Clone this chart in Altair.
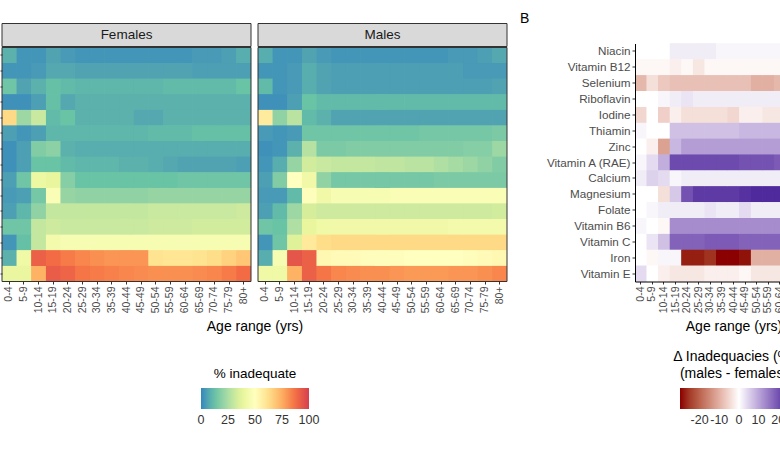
import altair as alt
import pandas as pd

nutrients = ["Niacin", "Vitamin B12", "Selenium", "Riboflavin", "Iodine", "Thiamin", "Zinc",
             "Vitamin A (RAE)", "Calcium", "Magnesium", "Folate", "Vitamin B6", "Vitamin C",
             "Iron", "Vitamin E"]
ages = ["0-4", "5-9", "10-14", "15-19", "20-24", "25-29", "30-34", "35-39", "40-44", "45-49",
        "50-54", "55-59", "60-64", "65-69", "70-74", "75-79", "80+"]

# % inadequate, females (rows = nutrients, columns = age groups)
females = [
    [9, 3, 3, 6, 4, 3, 3, 3, 3, 3, 3, 3, 3, 4, 4, 5, 8],
    [3, 3, 4, 7, 7, 6, 6, 6, 6, 6, 6, 6, 6, 5, 5, 5, 5],
    [14, 6, 9, 12, 11, 10, 10, 10, 10, 10, 10, 11, 11, 11, 11, 11, 13],
    [2, 2, 5, 12, 7, 9, 9, 9, 9, 9, 9, 9, 9, 9, 9, 9, 9],
    [64, 22, 31, 11, 13, 9, 9, 9, 9, 7, 7, 9, 9, 9, 9, 9, 9],
    [5, 3, 5, 10, 10, 10, 10, 10, 10, 10, 11, 11, 11, 12, 12, 12, 12],
    [2, 5, 17, 19, 9, 8, 8, 8, 8, 8, 8, 8, 8, 8, 8, 8, 8],
    [2, 5, 13, 13, 11, 10, 10, 10, 9, 9, 8, 7, 6, 6, 6, 6, 5],
    [5, 14, 41, 39, 18, 13, 13, 13, 13, 13, 13, 13, 14, 14, 14, 14, 14],
    [4, 5, 15, 47, 21, 20, 20, 20, 20, 20, 21, 21, 21, 21, 21, 21, 21],
    [5, 10, 20, 30, 30, 30, 30, 30, 30, 30, 31, 31, 31, 31, 31, 31, 32],
    [14, 14, 30, 32, 31, 31, 31, 31, 31, 31, 32, 32, 32, 33, 33, 33, 33],
    [3, 12, 30, 44, 46, 46, 46, 46, 46, 46, 46, 46, 46, 46, 46, 46, 46],
    [9, 42, 91, 88, 85, 83, 81, 80, 80, 80, 61, 60, 60, 61, 63, 66, 69],
    [40, 40, 74, 92, 90, 86, 85, 84, 83, 82, 81, 81, 81, 82, 83, 85, 88],
]

# % inadequate, males
males = [
    [8, 3, 3, 6, 4, 3, 3, 3, 3, 3, 3, 3, 3, 4, 4, 5, 7],
    [3, 3, 4, 8, 6, 5, 5, 5, 5, 5, 5, 5, 5, 5, 4, 4, 4],
    [11, 3, 4, 8, 6, 5, 5, 5, 5, 5, 5, 5, 5, 5, 5, 5, 6],
    [2, 2, 5, 13, 11, 11, 11, 11, 11, 11, 11, 11, 11, 11, 11, 11, 11],
    [58, 20, 28, 11, 9, 6, 6, 6, 6, 6, 6, 6, 6, 6, 6, 6, 6],
    [4, 3, 4, 14, 14, 14, 14, 14, 14, 14, 14, 15, 15, 15, 15, 15, 16],
    [2, 3, 9, 27, 16, 16, 17, 17, 17, 17, 17, 17, 17, 17, 18, 18, 22],
    [3, 8, 21, 33, 31, 30, 30, 30, 29, 29, 28, 28, 26, 24, 22, 20, 17],
    [5, 17, 50, 43, 20, 15, 15, 15, 15, 15, 15, 15, 16, 16, 16, 16, 16],
    [4, 4, 11, 49, 43, 46, 46, 46, 46, 47, 47, 47, 47, 47, 47, 47, 47],
    [5, 11, 22, 34, 32, 32, 32, 32, 32, 32, 32, 32, 32, 32, 32, 32, 33],
    [14, 13, 26, 39, 42, 43, 43, 43, 43, 43, 43, 43, 43, 44, 44, 44, 44],
    [3, 14, 36, 59, 63, 64, 64, 64, 64, 64, 64, 64, 64, 64, 64, 64, 64],
    [8, 46, 94, 91, 53, 52, 52, 51, 51, 51, 50, 50, 50, 50, 51, 52, 53],
    [42, 42, 74, 91, 86, 83, 82, 81, 81, 80, 79, 79, 79, 80, 80, 81, 83],
]

# difference in % inadequate (males - females)
delta = [
    [0, 0, 0, 2, 2, 2, 2, 1, 1, 1, 1, 1, 1, 1, 1, 1, 1],
    [-1, -1, -1, -2, -1, -3, -1, -1, -1, -1, -1, -1, -1, -1, -1, -1, -1],
    [-9, -4, -7, -8, -8, -8, -8, -8, -8, -8, -10, -10, -9, -8, -8, -8, -8],
    [0, 0, 1, 2, 3, 2, 2, 2, 2, 2, 2, 2, 2, 2, 2, 2, 2],
    [-5, 0, -6, -2, -4, -4, -4, -4, -5, -2, -2, -3, -3, -3, -3, -3, -3],
    [1, 0, 0, 7, 7, 7, 7, 7, 7, 8, 8, 8, 8, 8, 8, 8, 8],
    [0, -2, -12, 8, 11, 11, 11, 11, 11, 11, 11, 11, 11, 10, 10, 10, 12],
    [1, 4, 9, 21, 21, 21, 21, 21, 21, 20, 20, 20, 19, 18, 16, 14, 11],
    [2, 5, 4, 1, 2, 2, 2, 2, 2, 2, 2, 2, 2, 2, 2, 2, 2],
    [0, 0, -4, 6, 20, 23, 23, 23, 23, 24, 25, 25, 25, 25, 25, 25, 24],
    [0, 1, 2, 2, 2, 2, 3, 2, 2, 4, 2, 2, 2, 2, 2, 2, 2],
    [1, 0, -1, 13, 13, 13, 13, 13, 13, 13, 13, 13, 13, 13, 13, 13, 13],
    [0, 3, 7, 18, 18, 18, 19, 19, 19, 18, 18, 18, 18, 18, 18, 18, 18],
    [0, -1, 1, 1, -28, -28, -26, -30, -30, -29, -10, -10, -10, -9, -10, -12, -15],
    [4, 0, -2, -3, -3, -3, -2, -2, -2, -1, -3, -3, -3, -3, -3, -3, -3],
]

FONT = "Liberation Sans"
spectral = ["#3288bd", "#66c2a5", "#abdda4", "#e6f598", "#ffffbf",
            "#fee08b", "#fdae61", "#f46d43", "#d53e4f"]
# ends nudged by a hair so the end labels of the colour bar are centred like the others
spectral_domain = [-0.01, 12.5, 25, 37.5, 50, 62.5, 75, 87.5, 100.01]
div_domain = [-30, 0, 25]
div_range = ["#8b0000", "#ffffff", "#4e2a9d"]

W_A = 249
W_B = 197
H = 238


def long(mat):
    return pd.DataFrame([
        {"nutrient": n, "age": a, "value": mat[i][j]}
        for i, n in enumerate(nutrients) for j, a in enumerate(ages)
    ])


one = pd.DataFrame({"k": [0]})


def xaxis(title, domain, **extra):
    kw = dict(labelAngle=-90, labelFontSize=10.5, labelColor="#4d4d4d", labelPadding=2,
              tickSize=2.5, tickColor="#333333", domain=domain,
              titleFontSize=14, titleFontWeight="normal", titleColor="black",
              titleY=49, titleBaseline="alphabetic", title=title)
    if domain:
        kw.update(domainColor="black", domainWidth=1)
    kw.update(extra)
    return alt.Axis(**kw)


def legend_common(**kw):
    base = dict(type="gradient", orient="none", direction="horizontal",
                gradientLength=108, gradientThickness=21, gradientStrokeWidth=0,
                titleAnchor="middle", titleFontWeight="normal", titleColor="black",
                labelFontSize=12.5, labelColor="#333333", labelAlign="center",
                labelOffset=5, labelOverlap=False, labelExpr="'' + datum.value")
    base.update(kw)
    return alt.Legend(**base)


def panel(mat, label, first):
    df = long(mat)
    spec_scale = alt.Scale(domain=spectral_domain, range=spectral, interpolate="lab")
    if first:
        legend = legend_common(legendX=199, legendY=323, title="% inadequate",
                               titleFontSize=13.5, titlePadding=8,
                               values=[0, 25, 50, 75, 100])
        yax = alt.Axis(labels=False, ticks=True, tickSize=2, tickColor="#333333",
                       domain=False, title=None)
        ax = xaxis("Age range (yrs)", False, titleX=252.5)
    else:
        legend = None
        yax = None
        ax = xaxis(None, False)
    heat = alt.Chart(df).mark_rect().encode(
        x=alt.X("age:N", sort=ages, scale=alt.Scale(paddingInner=0, paddingOuter=0), axis=ax),
        y=alt.Y("nutrient:N", sort=nutrients,
                scale=alt.Scale(range=[4, H], paddingInner=0, paddingOuter=0), axis=yax),
        color=alt.Color("value:Q", scale=spec_scale, legend=legend),
    )
    border = alt.Chart(one).mark_rect(fill="transparent", stroke="#333333", strokeWidth=1).encode(
        x=alt.value(0), x2=alt.value(W_A), y=alt.value(4), y2=alt.value(H))
    strip = alt.Chart(one).mark_rect(fill="#d9d9d9", stroke="#333333", strokeWidth=1).encode(
        x=alt.value(0), x2=alt.value(W_A), y=alt.value(-20), y2=alt.value(3))
    txt = alt.Chart(one).mark_text(text=label, fontSize=13.5, color="#1a1a1a", font=FONT,
                                   baseline="middle", align="center").encode(
        x=alt.value(W_A / 2), y=alt.value(-8.5))
    # the heat layer is drawn more than once to hide anti-aliasing seams between cells
    return alt.layer(heat, heat, heat, border, strip, txt).properties(width=W_A, height=H)


fem = panel(females, "Females", True)
mal = panel(males, "Males", False)

spacer = alt.Chart(one).mark_point(opacity=0).encode(
    x=alt.value(0), y=alt.value(0)).properties(width=114, height=H)

div_scale = alt.Scale(domain=div_domain, range=div_range, interpolate="lab", clamp=True)
dfB = long(delta)
heatB = alt.Chart(dfB).mark_rect().encode(
    x=alt.X("age:N", sort=ages, scale=alt.Scale(paddingInner=0, paddingOuter=0),
            axis=xaxis("Age range (yrs)", True)),
    y=alt.Y("nutrient:N", sort=nutrients, scale=alt.Scale(paddingInner=0, paddingOuter=0),
            axis=alt.Axis(labelFontSize=11.7, labelColor="#4d4d4d", labelPadding=2, tickSize=3,
                          tickColor="#333333", domainColor="black", domainWidth=1, title=None)),
    color=alt.Color("value:Q", scale=div_scale,
                    legend=legend_common(legendX=38, legendY=306.5,
                                         title=["\u0394 Inadequacies (%)", "(males - females)"],
                                         titleFontSize=14, titleLineHeight=17, titlePadding=7,
                                         values=[-20, -10, 0, 10, 20])),
)
B = alt.layer(heatB, heatB, heatB).properties(
    width=W_B, height=H,
    title=alt.TitleParams("B", anchor="start", frame="group", dx=-115, offset=7,
                          baseline="alphabetic", fontSize=14, fontWeight="normal",
                          font=FONT, color="black"),
)

chart = alt.hconcat(fem, mal, spacer, B, spacing=7, bounds="flush").resolve_scale(
    color="independent"
).properties(
    autosize=alt.AutoSizeParams(type="none"),
    padding={"left": 2, "top": 43.5, "right": 778, "bottom": 426.5},
    background="white",
).configure(font=FONT).configure_view(stroke=None)

chart.save("out.html", embed_options={"renderer": "svg", "actions": False})
